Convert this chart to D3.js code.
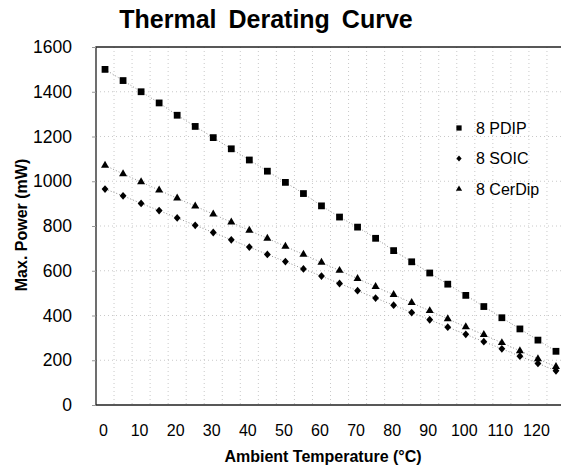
<!DOCTYPE html>
<html><head><meta charset="utf-8">
<script src="https://cdn.jsdelivr.net/npm/d3@7"></script>
<style>body{margin:0;background:#fff}svg{display:block}text{font-family:"Liberation Sans",Arial,Helvetica,sans-serif;fill:#000}</style>
</head><body><svg id="c" width="561" height="475"></svg>
<script>
const temps = [0,5,10,15,20,25,30,35,40,45,50,55,60,65,70,75,80,85,90,95,100,105,110,115,120,125];
const pdip  = [1500,1450,1400,1350,1295,1245,1195,1145,1095,1045,995,945,890,840,795,745,690,640,590,540,490,440,390,340,290,240];
const soic  = [965,935,901,869,836,803,771,738,706,673,641,608,576,543,511,478,446,413,381,348,316,283,251,218,186,153];
const cerdip= [1071,1033,997,960,924,889,853,817,780,745,709,673,637,601,565,529,493,457,421,385,349,314,278,242,206,171];
const seriesNames = ["8 PDIP","8 SOIC","8 CerDip"];
const xTicks = [0,10,20,30,40,50,60,70,80,90,100,110,120];
const yTicks = [0,200,400,600,800,1000,1200,1400,1600];

const svg = d3.select("#c");
const x = d3.scaleLinear().domain([-2.5,127.5]).range([96,565]);
const y = d3.scaleLinear().domain([0,1600]).range([405,47]);

// title
svg.append("text").attr("x",266).attr("y",28).attr("text-anchor","middle")
  .style("font-size","25px").style("font-weight","bold").style("word-spacing","5px")
  .text("Thermal Derating Curve");

// gridlines
const g = svg.append("g");
const vgrid = d3.range(2.5,127.5,5);
g.selectAll("line.v").data(vgrid).enter().append("line")
  .attr("x1",d=>x(d)).attr("x2",d=>x(d)).attr("y1",y(1600)).attr("y2",y(0))
  .attr("stroke","#bbb").attr("stroke-width",0.8).attr("stroke-dasharray","1,3");
g.selectAll("line.h").data(yTicks.slice(1,-1)).enter().append("line")
  .attr("x1",x(-2.5)).attr("x2",565).attr("y1",d=>y(d)).attr("y2",d=>y(d))
  .attr("stroke","#bbb").attr("stroke-width",0.8).attr("stroke-dasharray","1,3");

// frame
svg.append("path").attr("d",`M565,${y(1600)}H${x(-2.5)}V${y(0)}H565`)
  .attr("fill","none").attr("stroke","#222").attr("stroke-width",1.3);

// y axis
const yAx = svg.append("g").attr("transform",`translate(${x(-2.5)},0)`)
  .call(d3.axisLeft(y).tickValues(yTicks).tickSize(4).tickPadding(20).tickFormat(d3.format("d")));
yAx.select(".domain").remove();
yAx.selectAll("line").attr("stroke","#999");
yAx.selectAll("text").style("font-size","17.5px").attr("fill","#000");

// x axis labels
const xAx = svg.append("g").attr("transform",`translate(0,${y(0)})`)
  .call(d3.axisBottom(x).tickValues(xTicks).tickSize(0).tickPadding(20).tickFormat(d3.format("d")));
xAx.select(".domain").remove();
xAx.selectAll("text").style("font-size","16px").attr("fill","#000").attr("dx","-2");

// axis titles
svg.append("text").attr("x",323).attr("y",462).attr("text-anchor","middle")
  .style("font-size","16px").style("font-weight","bold").text("Ambient Temperature (°C)");
svg.append("text").attr("transform","translate(27,225) rotate(-90)").attr("text-anchor","middle")
  .style("font-size","16px").style("font-weight","bold").text("Max. Power (mW)");

// custom wide diamond
const wideDiamond = {draw(ctx,size){const r=Math.sqrt(size/2);
  ctx.moveTo(0,-r*1.08);ctx.lineTo(r*0.95,0);ctx.lineTo(0,r*1.08);ctx.lineTo(-r*0.95,0);ctx.closePath();}};

// series
const series = [
  {name:seriesNames[0], vals:pdip, sym:d3.symbolSquare, size:46},
  {name:seriesNames[1], vals:soic, sym:wideDiamond, size:26},
  {name:seriesNames[2], vals:cerdip, sym:d3.symbolTriangle, size:28}
];
const line = d3.line().x(d=>x(d[0])).y(d=>y(d[1]));
series.forEach(s=>{
  const pts = temps.map((t,i)=>[t,s.vals[i]]);
  svg.append("path").attr("d",line(pts)).attr("fill","none")
    .attr("stroke","#777").attr("stroke-width",0.8).attr("stroke-dasharray","1,2");
  svg.selectAll(null).data(pts).enter().append("path")
    .attr("d",d3.symbol().type(s.sym).size(s.size))
    .attr("transform",d=>`translate(${x(d[0])},${y(d[1])})`).attr("fill","#000");
});

// legend
const lg = svg.append("g").attr("transform","translate(459,128)");
series.forEach((s,i)=>{
  lg.append("path").attr("d",d3.symbol().type(s.sym).size(s.size*0.6)())
    .attr("transform",`translate(0,${i*30.5})`).attr("fill","#000");
  lg.append("text").attr("x",17).attr("y",i*30.5).attr("dy","0.35em")
    .style("font-size","16px").text(s.name);
});
</script></body></html>
